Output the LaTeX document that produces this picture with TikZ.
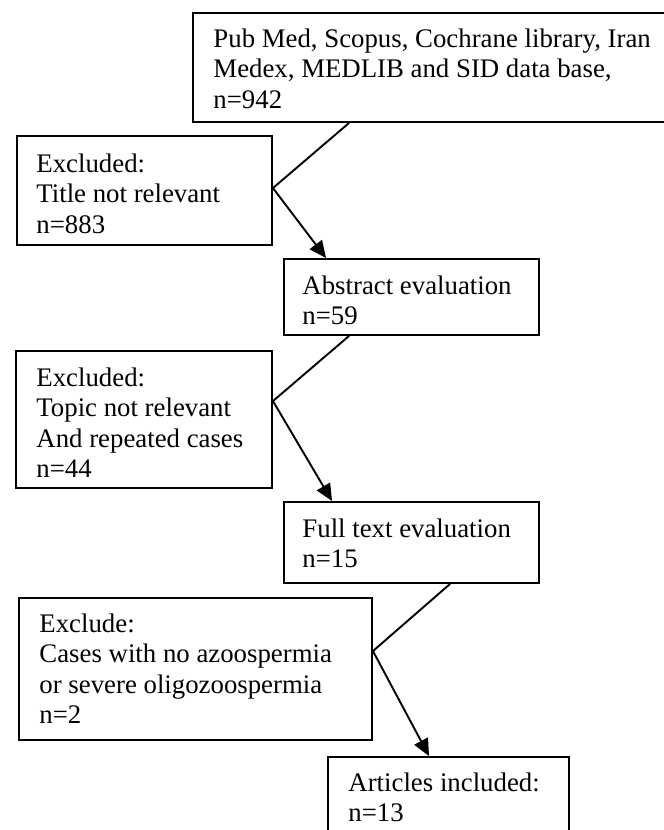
\documentclass[tikz,border=0pt]{standalone}
\usepackage{fontspec}
\setmainfont{Liberation Serif}
\usetikzlibrary{fit,calc,arrows.meta}
\tikzset{
  box/.style={draw, line width=0.95pt, inner sep=0pt, fill=none},
  txt/.style={anchor=north west, inner sep=0pt, align=left, font=\fontsize{13.4}{15.25}\selectfont},
  conn/.style={line width=0.95pt},
  arr/.style={line width=0.95pt, -{Triangle[length=8.5pt,width=7.6pt]}}
}
\begin{document}
\begin{tikzpicture}[x=0.5pt,y=-0.5pt]
\useasboundingbox (0,0) rectangle (664,830);
\clip (0,0) rectangle (664,830);
\fill[white] (0,0) rectangle (664,830);
% boxes
\node[box, fit={(193,13) (690,122)}] (src) {};
\node[box, fit={(17,136) (272,245)}] (ex1) {};
\node[box, fit={(284,259) (539,335)}] (abs) {};
\node[box, fit={(16,351) (272,488)}] (ex2) {};
\node[box, fit={(284,502) (539,583)}] (full) {};
\node[box, fit={(19,598) (372,740)}] (ex3) {};
\node[box, fit={(328,757) (569,850)}] (art) {};
% texts
\node[txt] (srct) at ($(src.north west)+(21,13.65)$) {\strut Pub Med, Scopus, Cochrane library, Iran\\Medex, MEDLIB and SID data base,\\n=942};
\node[txt] (ex1t) at ($(ex1.north west)+(20,15.65)$) {\strut Excluded:\\Title not relevant\\n=883};
\node[txt] (abst) at ($(abs.north west)+(19,14.65)$) {\strut Abstract evaluation\\n=59};
\node[txt] (ex2t) at ($(ex2.north west)+(21,14.65)$) {\strut Excluded:\\Topic not relevant\\And repeated cases\\n=44};
\node[txt] (fullt) at ($(full.north west)+(19,14.65)$) {\strut Full text evaluation\\n=15};
\node[txt] (ex3t) at ($(ex3.north west)+(21,13.65)$) {\strut Exclude:\\Cases with no azoospermia\\or severe oligozoospermia\\n=2};
\node[txt] (artt) at ($(art.north west)+(21,13.65)$) {\strut Articles included:\\n=13};
% vertices
\coordinate (v1) at ($(ex1.north east)+(0,53)$);
\coordinate (v2) at ($(ex2.north east)+(0,51)$);
\coordinate (v3) at ($(ex3.north east)+(0,54)$);
% connectors
\draw[conn] ($(src.south west)+(157,0)$) -- (v1);
\draw[arr] (v1) -- ($(abs.north west)+(43,0)$);
\draw[conn] ($(abs.south west)+(66,0)$) -- (v2);
\draw[arr] (v2) -- ($(full.north west)+(49,0)$);
\draw[conn] ($(full.south west)+(167,0)$) -- (v3);
\draw[arr] (v3) -- ($(art.north west)+(102,0)$);
\end{tikzpicture}
\end{document}
